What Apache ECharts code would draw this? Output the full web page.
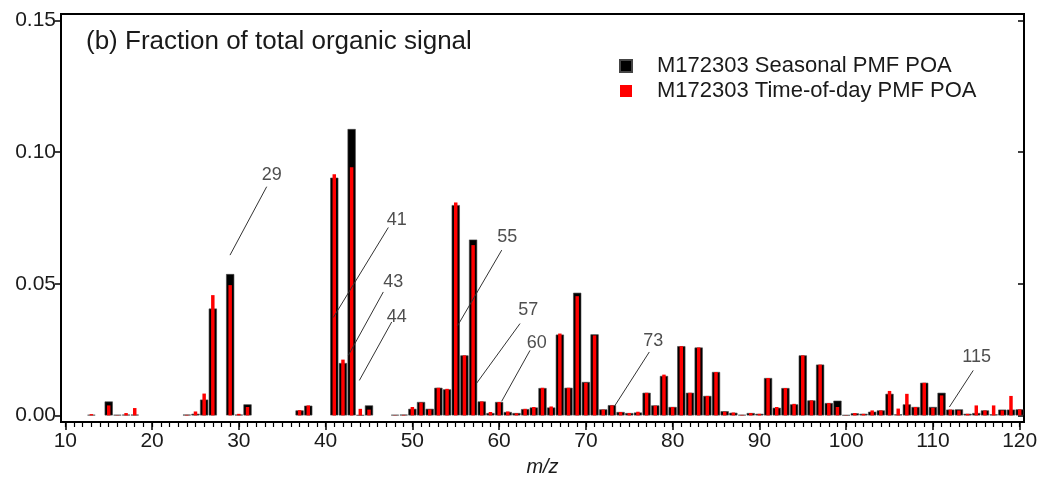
<!DOCTYPE html>
<html>
<head>
<meta charset="utf-8">
<script src="https://cdn.jsdelivr.net/npm/echarts@6/dist/echarts.min.js"></script>
<style>
  html, body { margin: 0; padding: 0; background: #fff; }
  #chart { width: 1041px; height: 486px; }
</style>
</head>
<body>
<div id="chart"></div>
<script>
// m/z values that carry a signal, with the two POA factor profiles (fraction of total organic signal)
const mz = [13, 15, 16, 17, 18, 24, 25, 26, 27, 29, 30, 31, 37, 38, 41, 42, 43, 44, 45, 48, 49,
  50, 51, 52, 53, 54, 55, 56, 57, 58, 59, 60, 61, 62, 63, 64, 65, 66, 67, 68, 69,
  70, 71, 72, 73, 74, 75, 76, 77, 78, 79, 80, 81, 82, 83, 84, 85, 86, 87, 88, 89,
  90, 91, 92, 93, 94, 95, 96, 97, 98, 99, 100, 101, 102, 103, 104, 105, 106, 107, 108, 109,
  110, 111, 112, 113, 114, 115, 116, 117, 118, 119, 120];

const seasonal = [0.0002, 0.0053, 0.0002, 0.0003, 0.0003, 0.0003, 0.0006, 0.0060, 0.0406, 0.0537, 0.0003, 0.0042, 0.0019, 0.0037, 0.0903, 0.0199, 0.1088, 0.0001, 0.0038, 0.0002, 0.0003,
  0.0025, 0.0051, 0.0025, 0.0105, 0.0099, 0.0799, 0.0228, 0.0668, 0.0053, 0.0009, 0.0051, 0.0013, 0.0009, 0.0024, 0.0030, 0.0104, 0.0030, 0.0307, 0.0105, 0.0466,
  0.0127, 0.0308, 0.0023, 0.0039, 0.0013, 0.0009, 0.0011, 0.0086, 0.0038, 0.0150, 0.0032, 0.0263, 0.0086, 0.0258, 0.0074, 0.0165, 0.0016, 0.0010, 0.0002, 0.0009,
  0.0006, 0.0142, 0.0029, 0.0104, 0.0042, 0.0228, 0.0057, 0.0193, 0.0047, 0.0056, 0.0001, 0.0008, 0.0006, 0.0014, 0.0019, 0.0082, 0.0004, 0.0042, 0.0032, 0.0124,
  0.0032, 0.0086, 0.0022, 0.0023, 0.0006, 0.0009, 0.0019, 0.0004, 0.0022, 0.0022, 0.0023];

const timeOfDay = [0.0005, 0.0038, 0.0001, 0.0009, 0.0028, 0.0002, 0.0015, 0.0083, 0.0457, 0.0495, 0.0006, 0.0032, 0.0020, 0.0038, 0.0916, 0.0212, 0.0943, 0.0025, 0.0022, 0.0001, 0.0002,
  0.0032, 0.0049, 0.0023, 0.0105, 0.0101, 0.0809, 0.0228, 0.0647, 0.0053, 0.0013, 0.0051, 0.0015, 0.0008, 0.0025, 0.0032, 0.0105, 0.0034, 0.0311, 0.0105, 0.0453,
  0.0124, 0.0304, 0.0022, 0.0038, 0.0013, 0.0009, 0.0014, 0.0086, 0.0037, 0.0155, 0.0032, 0.0263, 0.0086, 0.0258, 0.0074, 0.0165, 0.0014, 0.0011, 0.0002, 0.0009,
  0.0006, 0.0142, 0.0032, 0.0104, 0.0044, 0.0228, 0.0057, 0.0193, 0.0047, 0.0032, 0.0001, 0.0009, 0.0006, 0.0019, 0.0019, 0.0093, 0.0026, 0.0082, 0.0032, 0.0124,
  0.0029, 0.0076, 0.0022, 0.0019, 0.0006, 0.0038, 0.0019, 0.0038, 0.0019, 0.0074, 0.0023];

const seriesNames = ['M172303 Seasonal PMF POA', 'M172303 Time-of-day PMF POA'];
const xTickLabels = [10, 20, 30, 40, 50, 60, 70, 80, 90, 100, 110, 120];
const yTickValues = [0, 0.05, 0.10, 0.15];
const mzMin = 10, mzMax = 120;

// peak labels: text, leader line foot [m/z, y], leader line head [m/z, y], text anchor [m/z, y]
const peakLabels = [
  { text: '29',  foot: [28.98, 0.0609], head: [33.21, 0.0869], at: [33.79, 0.0913] },
  { text: '41',  foot: [40.89, 0.0372], head: [47.23, 0.0714], at: [48.20, 0.0742] },
  { text: '43',  foot: [42.62, 0.0228], head: [46.65, 0.0469], at: [47.80, 0.0507] },
  { text: '44',  foot: [43.89, 0.0133], head: [47.62, 0.0355], at: [48.20, 0.0372] },
  { text: '55',  foot: [55.18, 0.0339], head: [60.30, 0.0628], at: [60.95, 0.0678] },
  { text: '57',  foot: [57.42, 0.0123], head: [62.41, 0.0349], at: [63.37, 0.0400] },
  { text: '60',  foot: [60.30, 0.0054], head: [63.56, 0.0247], at: [64.33, 0.0275] },
  { text: '73',  foot: [73.36, 0.0038], head: [77.31, 0.0241], at: [77.77, 0.0283] },
  { text: '115', foot: [111.90, 0.0032], head: [114.65, 0.0171], at: [115.05, 0.0222] }
];

// one category per integer m/z across the axis
const categories = [];
for (let m = mzMin; m <= mzMax; m++) categories.push(String(m));

function toCategoryData(values) {
  return categories.map(c => {
    const i = mz.indexOf(Number(c));
    return i < 0 ? '-' : values[i];
  });
}

const isMajor = (i, v) => xTickLabels.indexOf(Number(v)) >= 0;

const FONT = '"Liberation Sans", Arial, sans-serif';
const TEXT = '#1a1a1a';

const chart = echarts.init(document.getElementById('chart'), null, { renderer: 'canvas' });

chart.setOption({
  animation: false,
  backgroundColor: '#fff',
  textStyle: { fontFamily: FONT },
  title: {
    text: '(b) Fraction of total organic signal',
    left: 86, top: 29, padding: 0,
    textStyle: { fontFamily: FONT, fontSize: 26, fontWeight: 'normal', color: TEXT }
  },
  legend: {
    orient: 'vertical',
    left: 619, top: 55, padding: 0,
    itemWidth: 12, itemHeight: 12, itemGap: 3,
    icon: 'rect',
    data: seriesNames,
    textStyle: { fontFamily: FONT, fontSize: 22, color: TEXT, padding: [0, 0, 0, 20] }
  },
  grid: {
    left: 61, right: 17, top: 14, bottom: 64,
    show: true, borderColor: '#000', borderWidth: 2, backgroundColor: 'transparent'
  },
  xAxis: [
    {
      type: 'category', data: categories, boundaryGap: true, position: 'bottom',
      axisLine: { show: true, onZero: false, lineStyle: { color: '#000', width: 2 } },
      axisTick: { show: true, alignWithLabel: true, interval: 0, length: 5, lineStyle: { color: '#000', width: 1.2 } },
      axisLabel: {
        show: true, interval: isMajor,
        fontSize: 21, color: TEXT, margin: 9, fontFamily: FONT
      },
      name: 'm/z', nameLocation: 'middle', nameGap: 35,
      nameTextStyle: { fontSize: 20, fontStyle: 'italic', color: TEXT, fontFamily: FONT },
      splitLine: { show: false }
    },
    {
      type: 'category', data: categories, boundaryGap: true, position: 'bottom',
      axisLine: { show: false, onZero: false },
      axisTick: { show: true, alignWithLabel: true, interval: isMajor, length: 8, lineStyle: { color: '#000', width: 1.5 } },
      axisLabel: { show: false },
      splitLine: { show: false }
    },
    {
      type: 'value', min: mzMin - 0.5, max: mzMax + 0.5, show: false
    }
  ],
  yAxis: [
    {
      type: 'value', min: -0.0025, max: 0.1525, position: 'left',
      axisLine: { show: true, lineStyle: { color: '#000', width: 2 } },
      axisTick: { show: true, customValues: yTickValues, length: 6, lineStyle: { color: '#000', width: 1.5 } },
      axisLabel: {
        customValues: yTickValues, formatter: v => v.toFixed(2),
        fontSize: 21, color: TEXT, margin: 5, fontFamily: FONT
      },
      splitLine: { show: false }
    },
    {
      type: 'value', min: -0.0025, max: 0.1525, position: 'right',
      axisLine: { show: true, lineStyle: { color: '#000', width: 2 } },
      axisTick: { show: true, inside: true, customValues: yTickValues, length: 6, lineStyle: { color: '#000', width: 1.5 } },
      axisLabel: { show: false },
      splitLine: { show: false }
    }
  ],
  series: [
    {
      name: seriesNames[0], type: 'bar',
      xAxisIndex: 0, yAxisIndex: 0,
      data: toCategoryData(seasonal),
      barWidth: '94%',
      itemStyle: { color: '#000', borderColor: '#444', borderWidth: 0.6 },
      z: 2
    },
    {
      name: seriesNames[1], type: 'bar',
      xAxisIndex: 1, yAxisIndex: 0,
      data: toCategoryData(timeOfDay),
      barWidth: '40%',
      itemStyle: { color: '#ff0000' },
      z: 3
    },
    {
      type: 'lines', coordinateSystem: 'cartesian2d',
      xAxisIndex: 2, yAxisIndex: 0,
      silent: true,
      lineStyle: { color: '#333', width: 1, opacity: 1 },
      data: peakLabels.map(p => ({ coords: [p.foot, p.head] })),
      z: 5
    },
    {
      type: 'scatter',
      xAxisIndex: 2, yAxisIndex: 0,
      symbolSize: 0, silent: true,
      data: peakLabels.map(p => ({ value: p.at, name: p.text })),
      label: {
        show: true, position: 'inside', formatter: p => p.name,
        fontSize: 18, color: '#222', fontFamily: FONT
      },
      z: 6
    }
  ]
});
</script>
</body>
</html>
